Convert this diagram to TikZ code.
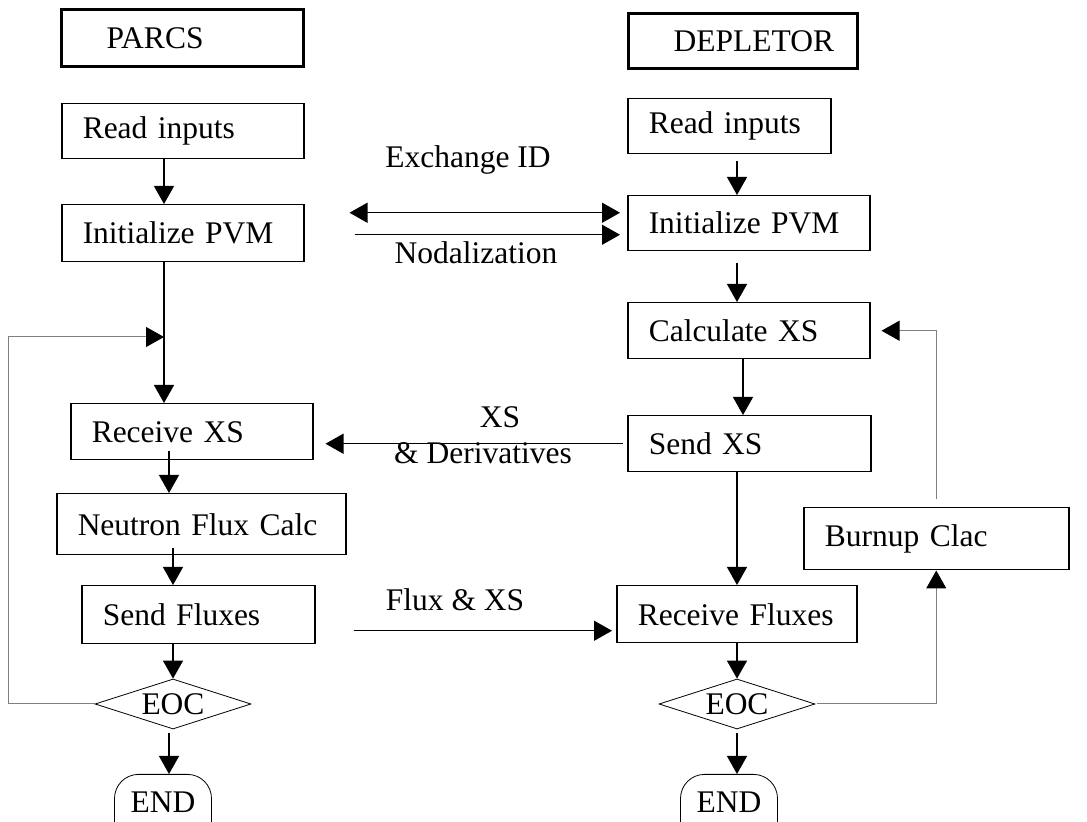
\documentclass[tikz,border=0pt]{standalone}
\usepackage{fontspec}
\setmainfont{Liberation Serif}
\usetikzlibrary{arrows.meta,positioning,shapes.geometric,calc}

\begin{document}
\begin{tikzpicture}[x=0.5pt,y=-0.5pt,
  font=\fontsize{15.75pt}{18pt}\selectfont,
  title/.style={draw,line width=1.6pt,anchor=north west,inner xsep=22.5pt,inner ysep=0pt,align=left},
  process/.style={draw,line width=0.75pt,anchor=north west,inner xsep=10.5pt,inner ysep=0pt,align=left},
  decision/.style={draw,line width=0.4pt,shape=diamond,aspect=3,inner sep=0pt,minimum width=78pt,minimum height=25pt},
  terminal/.style={draw,line width=0.4pt,rounded corners=12pt,anchor=north,minimum width=48.5pt,minimum height=39pt,text depth=11pt},
  to/.style={line width=0.65pt,-{Triangle[length=9pt,width=10pt]}},
  back/.style={gray,line width=0.5pt,-{Triangle[length=9pt,width=10pt,color=black]}}]

    \useasboundingbox (0,0) rectangle (1087,822);

    % titles
    \node[title,text width=76pt,minimum height=28.5pt](parcs) at (60,8) {PARCS};
    \node[title,text width=69.5pt,minimum height=27.5pt](depl) at (627,12) {DEPLETOR};

    % PARCS side
    \node[process,text width=100pt,minimum height=27.5pt](readL) at (61,103) {Read inputs};
    \node[process,text width=100pt,minimum height=28.5pt](initL) at (61,204) {Initialize PVM};
    \node[process,text width=100pt,minimum height=28pt](recvL) at (70,403) {Receive XS};
    \node[process,text width=123.5pt,minimum height=30.5pt](fluxL) at (56,493) {Neutron Flux Calc};
    \node[process,text width=95.5pt,minimum height=29pt](sendL) at (81,585) {Send Fluxes};
    \node[decision](eocL) at (173,704) {EOC};
    \node[terminal](endL) at (163,774) {END};

    % DEPLETOR side
    \node[process,text width=80.5pt,minimum height=27.5pt](readR) at (627,98) {Read inputs};
    \node[process,text width=100pt,minimum height=27.5pt](initR) at (627,195) {Initialize PVM};
    \node[process,text width=100pt,minimum height=28pt](calcR) at (627,302) {Calculate XS};
    \node[process,text width=100.5pt,minimum height=28pt](sendR) at (627,415) {Send XS};
    \node[process,text width=99pt,minimum height=28.5pt](recvR) at (616,585) {Receive Fluxes};
    \node[process,text width=111.5pt,minimum height=31pt](burn) at (803,507) {Burnup Clac};
    \node[decision](eocR) at (737,704) {EOC};
    \node[terminal](endR) at (729,774) {END};

    \coordinate (cL) at (164,0);
    \coordinate (cL2) at (169,0);
    \coordinate (cL3) at (173,0);
    \coordinate (cR) at (737,0);
    \coordinate (cR2) at (743,0);

    % vertical flow
    \draw[to](readL.south -| cL) -- (initL.north -| cL);
    \draw[to](initL.south -| cL) -- (recvL.north -| cL);
    \draw[to,shorten <=-4.5pt](recvL.south -| cL2) -- (fluxL.north -| cL2);
    \draw[to,shorten <=-3.5pt](fluxL.south -| cL3) -- (sendL.north -| cL3);
    \draw[to](sendL.south -| cL3) -- (eocL.north);
    \draw[to,shorten <=2pt](eocL.south -| cL2) -- (endL.north -| cL2);

    \draw[to,shorten <=3.5pt](readR.south -| cR) -- (initR.north -| cR);
    \draw[to,shorten <=6pt](initR.south -| cR) -- (calcR.north -| cR);
    \draw[to](calcR.south -| cR2) -- (sendR.north -| cR2);
    \draw[to](sendR.south -| cR) -- (recvR.north -| cR);
    \draw[to](recvR.south -| cR) -- (eocR.north);
    \draw[to,shorten <=2pt](eocR.south -| cR) -- (endR.north -| cR);

    % messages between the codes
    \coordinate (exA) at ($(initL.east)+(45,-20.5)$);
    \draw[to,{Triangle[length=9pt,width=10pt]}-{Triangle[length=9pt,width=10pt]},shorten >=3.5pt](exA) -- (exA -| initR.west);
    \node(exlbl) at (468,160) {Exchange ID};
    \coordinate (ndA) at ($(initL.east)+(50,1.5)$);
    \draw[to,shorten >=3.5pt](ndA) -- (ndA -| initR.west);
    \node(ndlbl) at (476,253) {Nodalization};

    \draw[to,shorten <=2pt,shorten >=6pt](sendR.west) -- (sendR.west -| recvL.east);
    \node(xslbl) at (500,417) {XS};
    \node(derlbl) at (483,453) {\& Derivatives};

    \coordinate (fxA) at ($(sendL.east)+(38,16)$);
    \draw[to,shorten >=2pt](fxA) -- (fxA -| recvR.west);
    \node(fxlbl) at (455,600) {Flux \& XS};

    % loops
    \coordinate (fbL) at (164,337);
    \draw[back](eocL.west) -- ++(-86,0) |- (fbL);
    \draw[back,shorten <=1pt](eocR.east) -| (burn.south);
    \draw[back,shorten <=4pt,shorten >=5.5pt](burn.north) |- (calcR.east);
\end{tikzpicture}
\end{document}
